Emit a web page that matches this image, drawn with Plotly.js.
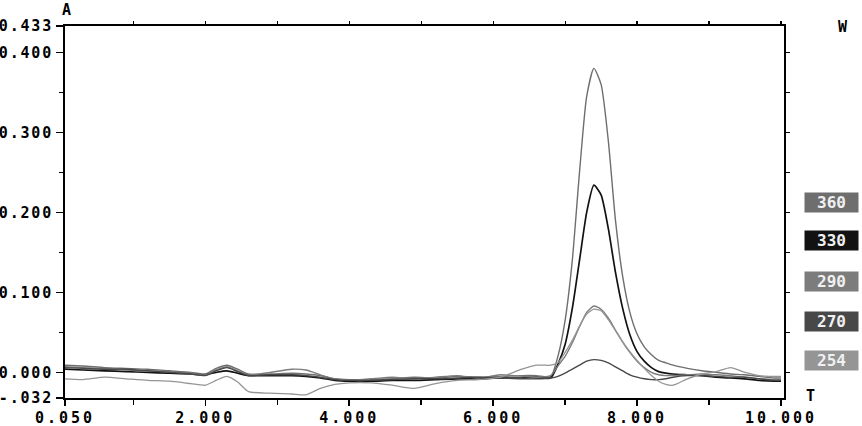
<!DOCTYPE html>
<html>
<head>
<meta charset="utf-8">
<script src="https://cdn.plot.ly/plotly-3.0.1.min.js"></script>
<style>
  html, body { margin: 0; padding: 0; background: #fff; }
  #chart { width: 862px; height: 426px; }
  .xtick text { letter-spacing: 3px; }
  .ytick text { letter-spacing: 1.8px; }
</style>
</head>
<body>
<div id="chart"></div>
<script>
// Retention time (min)
const times = [0.05,0.3,0.6,0.9,1.2,1.5,1.8,2.0,2.15,2.3,2.45,2.6,2.9,3.2,3.4,3.6,3.8,4.0,4.3,4.6,4.9,5.2,5.5,5.8,6.1,6.4,6.6,6.8,6.9,
  7.0,7.1,7.2,7.3,7.4,7.5,7.6,7.7,7.8,7.9,8.0,8.1,8.2,8.3,8.4,8.5,8.7,8.9,9.1,9.3,9.5,9.7,9.9,10.0];

// Absorbance per wavelength (nm)
const abs360 = [0.009,0.008,0.006,0.005,0.004,0.002,0.000,-0.002,0.005,0.009,0.004,-0.002,-0.002,-0.001,-0.002,-0.004,-0.008,-0.009,-0.009,-0.008,-0.006,-0.007,-0.005,-0.006,-0.005,-0.004,-0.004,-0.005,0.020,
  0.065,0.140,0.250,0.345,0.380,0.360,0.290,0.190,0.120,0.075,0.048,0.032,0.022,0.015,0.012,0.009,0.005,0.002,0.000,-0.002,-0.003,-0.005,-0.007,-0.007];
const abs330 = [0.004,0.003,0.002,0.001,0.000,-0.001,-0.002,-0.003,0.000,0.002,-0.001,-0.004,-0.004,-0.004,-0.005,-0.007,-0.010,-0.011,-0.011,-0.010,-0.010,-0.009,-0.008,-0.008,-0.007,-0.007,-0.006,-0.007,0.010,
  0.035,0.080,0.140,0.200,0.234,0.222,0.180,0.125,0.080,0.047,0.026,0.014,0.006,0.001,-0.001,-0.002,-0.003,-0.004,-0.006,-0.007,-0.008,-0.010,-0.011,-0.011];
const abs290 = [0.007,0.006,0.005,0.003,0.002,0.001,-0.001,-0.003,0.003,0.007,0.002,-0.003,0.000,0.004,0.003,-0.003,-0.008,-0.010,-0.008,-0.006,-0.008,-0.006,-0.004,-0.007,-0.003,-0.005,-0.006,-0.004,0.008,
  0.020,0.037,0.057,0.075,0.083,0.079,0.068,0.053,0.038,0.025,0.014,0.006,0.000,-0.003,-0.004,-0.004,-0.003,-0.002,-0.003,-0.004,-0.006,-0.008,-0.009,-0.009];
const abs270 = [0.006,0.005,0.004,0.004,0.002,0.000,-0.002,-0.004,0.002,0.006,0.001,-0.004,-0.003,-0.003,-0.004,-0.006,-0.009,-0.010,-0.010,-0.009,-0.008,-0.008,-0.007,-0.006,-0.007,-0.008,-0.008,-0.007,-0.005,
  -0.001,0.004,0.009,0.014,0.016,0.015,0.012,0.007,0.002,-0.003,-0.006,-0.008,-0.009,-0.009,-0.008,-0.006,-0.004,-0.004,-0.005,-0.006,-0.006,-0.008,-0.010,-0.010];
const abs254 = [-0.008,-0.009,-0.006,-0.008,-0.010,-0.011,-0.014,-0.016,-0.010,-0.005,-0.012,-0.024,-0.026,-0.027,-0.028,-0.020,-0.015,-0.013,-0.013,-0.016,-0.020,-0.014,-0.010,-0.009,-0.006,0.004,0.009,0.009,0.012,
  0.025,0.040,0.058,0.073,0.079,0.077,0.066,0.052,0.038,0.026,0.015,0.005,-0.004,-0.011,-0.015,-0.016,-0.008,-0.002,0.001,0.006,0.000,-0.004,-0.005,-0.005];

const wavelengths = ['360','330','290','270','254'];
const seriesColors = ['#6e6e6e','#121212','#7c7c7c','#484848','#959595'];
const seriesWidths = [1.4,1.7,1.4,1.4,1.3];
const seriesData = [abs360, abs330, abs290, abs270, abs254];

const yTickVals = [-0.032,0,0.1,0.2,0.3,0.4,0.433];
const yTickText = ['-.032','0.000','0.100','0.200','0.300','0.400','0.433'];
const yMinorVals = [0.05,0.15,0.25,0.35];
const xTickVals = [0.05,2,4,6,8,10];
const xTickText = ['0.050','2.000','4.000','6.000','8.000','10.000'];
const xMinorVals = [1,3,5,7,9];
const xTopVals = [1,2,3,4,5,6,7,8,9,10];
const yRightVals = [0,0.05,0.1,0.15,0.2,0.25,0.3,0.35,0.4];

const L = 65, T = 26, W = 719, H = 372;
const px2x = p => (p - L) / W;
const py2y = p => (T + H - p) / H;

const mono = '"DejaVu Sans Mono", "Liberation Mono", monospace';

const traces = seriesData.map((ys, i) => ({
  x: times, y: ys, type: 'scatter', mode: 'lines', name: wavelengths[i],
  line: {color: seriesColors[i], width: seriesWidths[i], shape: 'spline', smoothing: 0.6},
  showlegend: false, hoverinfo: 'skip'
}));
traces.push({x: [], y: [], xaxis: 'x2', yaxis: 'y2', showlegend: false, type: 'scatter'});
traces.push({x: [], y: [], xaxis: 'x3', yaxis: 'y', showlegend: false, type: 'scatter'});

const legendBoxY = [202, 241, 281, 321, 360];
const annotations = wavelengths.map((w, i) => ({
  xref: 'paper', yref: 'paper', x: px2x(831), y: py2y(legendBoxY[i]),
  xanchor: 'center', yanchor: 'middle', text: w, showarrow: false,
  font: {family: mono, size: 16, color: '#f0f0f0', weight: 'bold'},
  bgcolor: seriesColors[i], width: 49, height: 15, borderpad: 2
}));
annotations.push(
  {xref: 'paper', yref: 'paper', x: px2x(66), y: py2y(10), text: 'A', showarrow: false,
   xanchor: 'center', yanchor: 'middle', font: {family: mono, size: 15, color: '#000', weight: 'bold'}},
  {xref: 'paper', yref: 'paper', x: px2x(843), y: py2y(27), text: 'W', showarrow: false,
   xanchor: 'center', yanchor: 'middle', font: {family: mono, size: 15, color: '#000', weight: 'bold'}},
  {xref: 'paper', yref: 'paper', x: px2x(810), y: py2y(396), text: 'T', showarrow: false,
   xanchor: 'center', yanchor: 'middle', font: {family: mono, size: 15, color: '#000', weight: 'bold'}}
);

const layout = {
  width: 862, height: 426,
  margin: {l: L, r: 862 - L - W, t: T, b: 426 - T - H},
  paper_bgcolor: '#fff', plot_bgcolor: '#fff',
  font: {family: mono, color: '#000'},
  // bottom axis: labels only (close to the line)
  xaxis: {
    range: [0.05, 10.042], showgrid: false, zeroline: false,
    showline: true, linecolor: '#000', linewidth: 2, mirror: true,
    tickmode: 'array', tickvals: xTickVals, ticktext: xTickText,
    ticks: '', ticklabelstandoff: 5,
    tickfont: {family: mono, size: 15, color: '#000', weight: 'bold'}
  },
  // bottom axis: tick marks only
  xaxis3: {
    overlaying: 'x', side: 'bottom', range: [0.05, 10.042], showgrid: false, zeroline: false,
    showline: false, tickmode: 'array', tickvals: xTickVals, ticks: 'outside', ticklen: 7,
    tickwidth: 1.5, tickcolor: '#000', showticklabels: false,
    minor: {tickmode: 'array', tickvals: xMinorVals, ticks: 'outside', ticklen: 6, tickwidth: 1.5, tickcolor: '#000', showgrid: false}
  },
  yaxis: {
    range: [-0.032, 0.433], showgrid: false, zeroline: false,
    showline: true, linecolor: '#000', linewidth: 2, mirror: true,
    tickmode: 'array', tickvals: yTickVals, ticktext: yTickText,
    ticks: 'outside', ticklen: 7, tickwidth: 1.5, tickcolor: '#000',
    tickfont: {family: mono, size: 15, color: '#000', weight: 'bold'},
    minor: {tickmode: 'array', tickvals: yMinorVals, ticks: 'outside', ticklen: 4, tickwidth: 1.5, tickcolor: '#000', showgrid: false}
  },
  xaxis2: {
    overlaying: 'x', side: 'top', range: [0.05, 10.042], showgrid: false, zeroline: false,
    showline: false, tickmode: 'array', tickvals: xTopVals, ticks: 'outside', ticklen: 4,
    tickwidth: 1.2, tickcolor: '#000', showticklabels: false
  },
  yaxis2: {
    overlaying: 'y', side: 'right', range: [-0.032, 0.433], showgrid: false, zeroline: false,
    showline: false, tickmode: 'array', tickvals: yRightVals, ticks: 'outside', ticklen: 5,
    tickwidth: 1.2, tickcolor: '#000', showticklabels: false
  },
  annotations: annotations
};

Plotly.newPlot('chart', traces, layout, {displayModeBar: false, staticPlot: true});
</script>
</body>
</html>
